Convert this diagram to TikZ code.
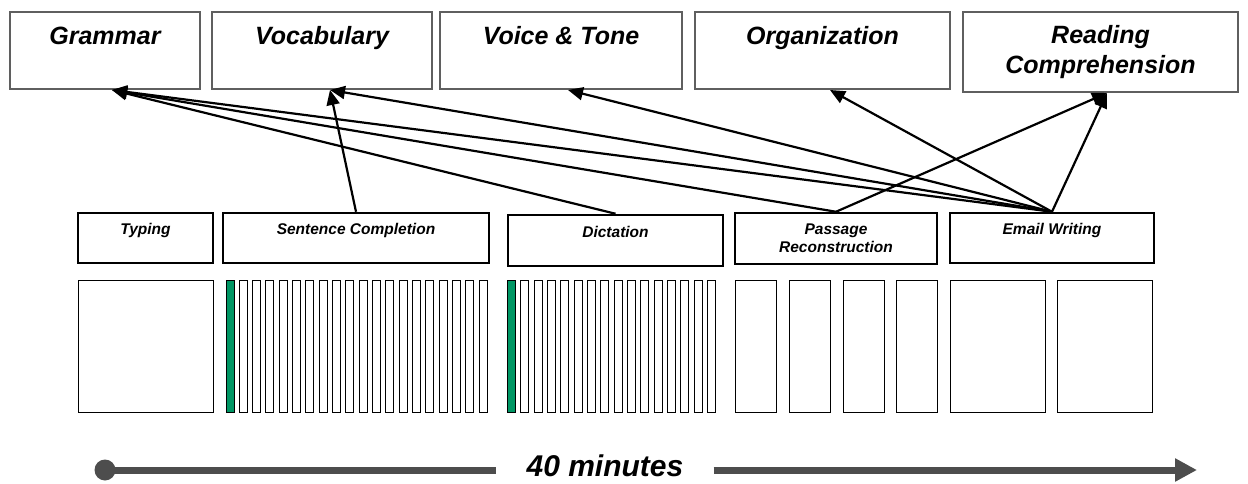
\documentclass[tikz,border=0pt]{standalone}
\usepackage{fontspec}
\setmainfont{Liberation Sans}
\usepackage{xcolor}
\usetikzlibrary{arrows.meta}
\definecolor{boxgray}{RGB}{95,95,95}
\definecolor{itemgreen}{RGB}{0,150,100}
\definecolor{linegray}{RGB}{77,77,77}

\begin{document}
\begin{tikzpicture}[
  x=1pt, y=-1pt,
  skill/.style={draw=boxgray,line width=2pt,align=center,inner sep=0pt,minimum height=77pt,font=\fontsize{25}{30}\selectfont\bfseries\itshape},
  task/.style={draw,line width=2.5pt,align=center,inner sep=0pt,minimum height=50pt,font=\fontsize{15.5}{18}\selectfont\bfseries\itshape},
  item/.style={draw,line width=1pt},
  conn/.style={line width=2.2pt,-{Triangle[length=15pt,width=13pt]}},
  timeline/.style={draw=linegray,line width=7pt}
]
  \useasboundingbox (0,0) rectangle (1248,484);
  % skills
  \node[skill,minimum width=190pt] (g) at (105,50.5) {Grammar\\\phantom{G}};
  \node[skill,minimum width=220pt] (voc) at (322,50.5) {Vocabulary\\\phantom{V}};
  \node[skill,minimum width=242pt] (vt) at (561,50.5) {Voice \& Tone\\\phantom{V}};
  \node[skill,minimum width=255pt] (org) at (822.5,50.5) {Organization\\\phantom{O}};
  \node[skill,minimum width=275pt,minimum height=80pt] (rc) at (1100.5,52) {Reading\\Comprehension};
  % tasks
  \node[task,minimum width=135pt] (typ) at (145.5,238) {Typing\\\phantom{T}};
  \node[task,minimum width=266pt] (sc) at (356,238) {Sentence Completion\\\phantom{S}};
  \node[task,minimum width=215pt,minimum height=51pt] (dic) at (615.5,240.5) {Dictation\\\phantom{D}};
  \node[task,minimum width=202pt,minimum height=51pt] (pr) at (836,238.5) {Passage\\Reconstruction};
  \node[task,minimum width=204pt] (ew) at (1052,238) {Email Writing\\\phantom{E}};
  % items
  \draw[item] (78,280) rectangle (213,412);
  \foreach \i in {0,...,19}
    \draw[item] ({226+13.33*\i},280) rectangle ++(8,132);
  \fill[itemgreen] (226.5,280.5) rectangle ++(7,131);
  \foreach \i in {0,...,15}
    \draw[item] ({507.5+13.33*\i},280) rectangle ++(8,132);
  \fill[itemgreen] (508,280.5) rectangle ++(7,131);
  \foreach \x in {735,789,843,896}
    \draw[item] (\x,280) rectangle ++(41,132);
  \foreach \x in {950,1057}
    \draw[item] (\x,280) rectangle ++(95,132);
  % connectors
  \draw[conn] (ew.north) -- ([xshift=7pt]g.south);
  \draw[conn] (ew.north) -- ([xshift=8pt]voc.south);
  \draw[conn] (ew.north) -- ([xshift=7pt]vt.south);
  \draw[conn] (ew.north) -- ([xshift=7.5pt]org.south);
  \draw[conn] (ew.north) -- ([xshift=6.5pt]rc.south);
  \draw[conn] (pr.north) -- ([xshift=7pt]g.south);
  \draw[conn] (pr.north) -- ([xshift=6.5pt]rc.south);
  \draw[conn] (dic.north) -- ([xshift=7pt]g.south);
  \draw[conn] (sc.north) -- ([xshift=8pt]voc.south);
  % timeline
  \node[circle,fill=linegray,minimum size=21pt,inner sep=0pt] (t0) at (105,470) {};
  \node[font=\fontsize{30}{36}\selectfont\bfseries\itshape,inner xsep=30pt,inner ysep=0pt] (tlbl) at (605,466) {40 minutes};
  \coordinate (t1) at (1197,470);
  \draw[timeline] (t0.center) -- (t0.center -| tlbl.west);
  \draw[timeline,-{Triangle[length=22pt,width=22pt]}] (tlbl.east |- t0) -- (t1);
\end{tikzpicture}
\end{document}
